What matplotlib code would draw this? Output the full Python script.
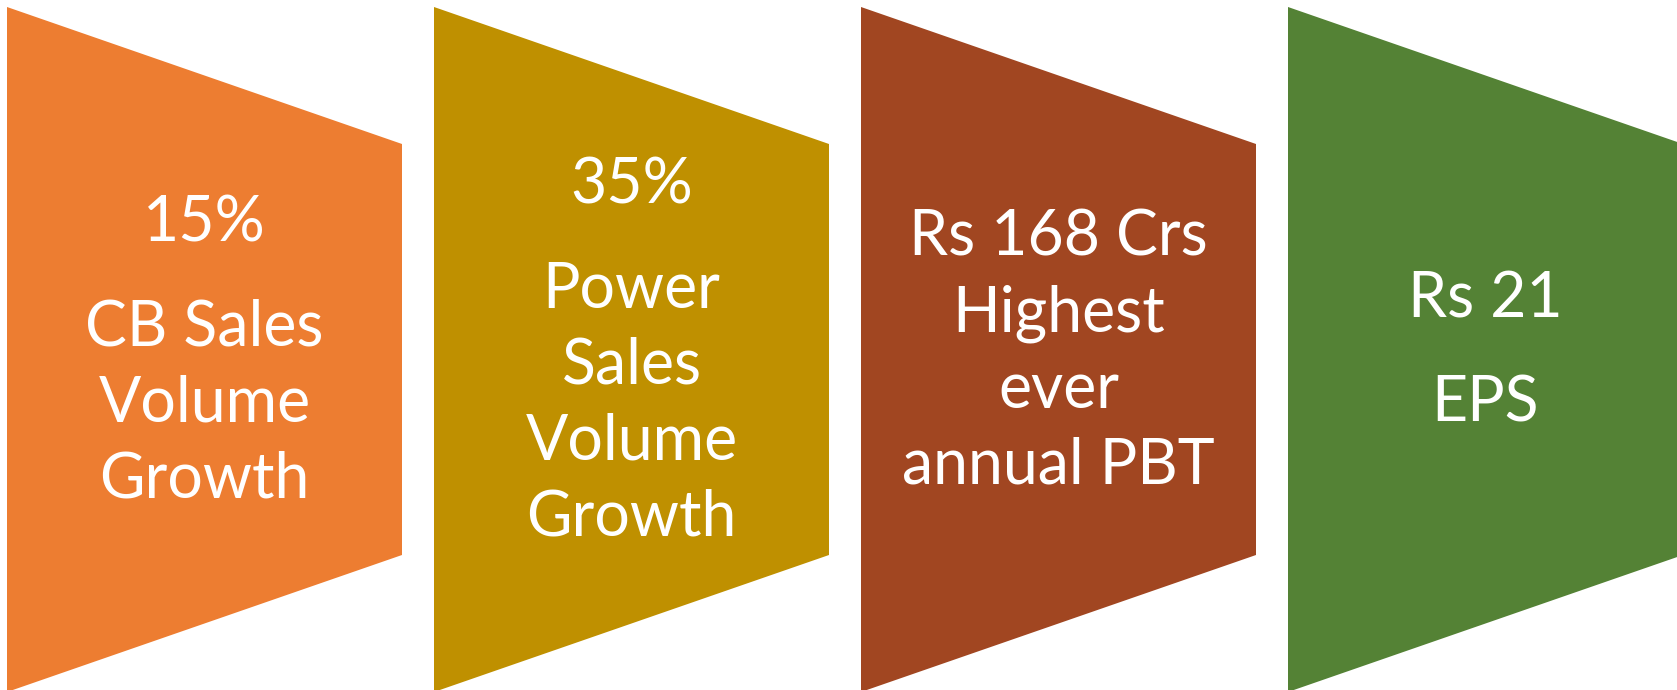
import matplotlib
matplotlib.use("Agg")
import matplotlib.pyplot as plt

# one entry per panel; each panel is a list of paragraphs, each a list of lines
panel_text = [
    [["15%"], ["CB Sales", "Volume", "Growth"]],
    [["35%"], ["Power", "Sales", "Volume", "Growth"]],
    [["Rs 168 Crs", "Highest", "ever", "annual PBT"]],
    [["Rs 21"], ["EPS"]],
]
panel_colors = ["#ED7D31", "#BF9000", "#A14621", "#548235"]

W, H = 1677, 690
fig = plt.figure(figsize=(W / 100, H / 100), dpi=100)
ax = fig.add_axes([0, 0, 1, 1])
ax.set_xlim(0, W)
ax.set_ylim(H, 0)
ax.axis("off")

left0, pitch, width = 7, 427, 395
top_l, top_r, bot_r, bot_l = 7, 144, 555, 692
line_gap, para_gap, cap = 76, 105, 45
mid_y = 347

for i, (paras, col) in enumerate(zip(panel_text, panel_colors)):
    x0 = left0 + i * pitch
    x1 = x0 + width
    ax.fill([x0, x1, x1, x0], [top_l, top_r, bot_r, bot_l], color=col, lw=0)

    # baselines of every line, then shift the block to sit on the middle
    lines, ys, y = [], [], 0
    for k, para in enumerate(paras):
        if k > 0:
            y += para_gap
        for j, ln in enumerate(para):
            if j > 0:
                y += line_gap
            lines.append(ln)
            ys.append(y)
    shift = mid_y - (ys[0] - cap + ys[-1]) / 2
    cx = (x0 + x1) / 2
    for ln, yb in zip(lines, ys):
        ax.text(cx, yb + shift, ln, color="white", ha="center", va="baseline",
                fontsize=45, family="Lato")

fig.savefig("out.png", dpi=100)
